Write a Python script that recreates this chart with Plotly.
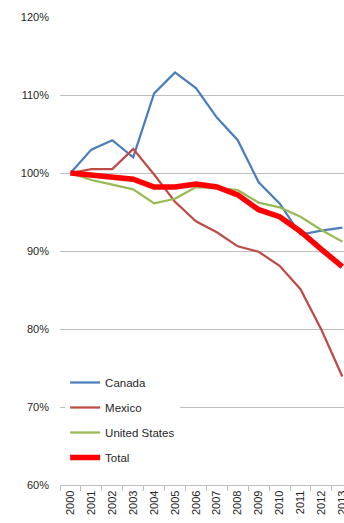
import plotly.graph_objects as go

years = [str(y) for y in range(2000, 2014)]
canada = [100.0, 103.0, 104.2, 102.0, 110.2, 112.9, 110.9, 107.1, 104.2, 98.8, 96.1, 92.1, 92.6, 93.0]
mexico = [100.0, 100.5, 100.5, 103.1, 99.8, 96.3, 93.8, 92.4, 90.6, 89.9, 88.1, 85.1, 79.9, 73.9]
united_states = [100.0, 99.1, 98.5, 97.9, 96.1, 96.7, 98.2, 98.1, 97.8, 96.2, 95.6, 94.4, 92.7, 91.2]
total = [100.0, 99.7, 99.4, 99.2, 98.2, 98.2, 98.6, 98.2, 97.2, 95.3, 94.4, 92.5, 90.2, 88.0]

series = [
    ("Canada", canada, "#4A7EBB", 2.25),
    ("Mexico", mexico, "#BE4B48", 2.25),
    ("United States", united_states, "#98B954", 2.25),
    ("Total", total, "#FF0000", 5.5),
]

FONT = "Liberation Sans, Arial, sans-serif"

fig = go.Figure()
for i, (name, vals, color, width) in enumerate(series):
    fig.add_trace(go.Scatter(
        x=years, y=vals, name=name, mode="lines",
        line=dict(color=color, width=width),
        legendgroup=f"g{i}",
    ))

fig.update_layout(
    width=344, height=523,
    margin=dict(l=60, r=0, t=17, b=38, autoexpand=False),
    paper_bgcolor="white", plot_bgcolor="white",
    font=dict(family=FONT, size=11, color="#262626"),
    showlegend=True,
    legend=dict(
        x=0.018, y=0.25, xanchor="left", yanchor="top",
        bgcolor="white", borderwidth=0,
        font=dict(family=FONT, size=11.5, color="#262626"),
        tracegroupgap=6, traceorder="grouped",
        itemwidth=30,
    ),
)

fig.update_xaxes(
    type="category",
    range=[-0.5, 13.08],
    automargin=False,
    tickson="boundaries",
    ticks="outside", ticklen=5, tickcolor="#BEBEBE", tickwidth=1,
    showline=True, linecolor="#BEBEBE", linewidth=1.3,
    showgrid=False,
    tickangle=-90,
    tickfont=dict(family=FONT, size=11, color="#262626"),
)
fig.update_yaxes(
    range=[60, 120],
    dtick=10, tick0=60,
    ticksuffix="%",
    automargin=False,
    showgrid=True, gridcolor="#BEBEBE", gridwidth=1.3,
    zeroline=False, showline=False,
    ticks="", ticklabelstandoff=10,
    tickfont=dict(family=FONT, size=11, color="#262626"),
)

fig.write_html("out.html")
